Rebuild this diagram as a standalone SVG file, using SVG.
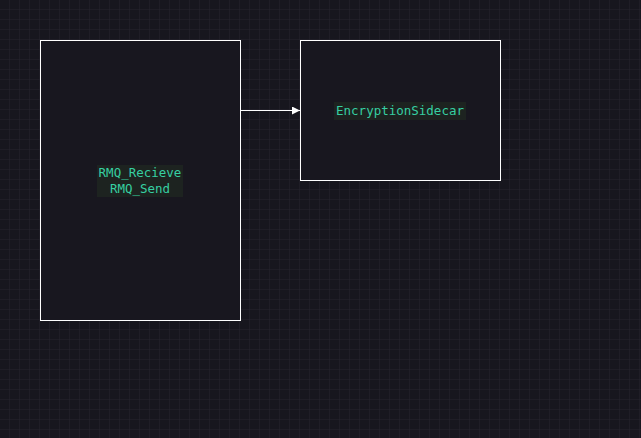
<svg xmlns="http://www.w3.org/2000/svg" width="641" height="438" viewBox="0 0 641 438">
<defs>
<pattern id="minor" width="10" height="10" patternUnits="userSpaceOnUse">
<path d="M10 0V10M0 10H10" fill="none" stroke="#25242d" stroke-width="1"/>
</pattern>
<pattern id="major" width="40" height="40" patternUnits="userSpaceOnUse">
<path d="M40.5 0V40M0 40.5H40" fill="none" stroke="#3a3940" stroke-width="1"/>
</pattern>
<marker id="arr" viewBox="0 0 10 10" refX="10" refY="5" markerWidth="9" markerHeight="8" markerUnits="userSpaceOnUse" orient="auto">
<path d="M0 0L10 5L0 10Z" fill="#ffffff"/>
</marker>
</defs>
<style>
.box{fill:#18171f;stroke:#ffffff;stroke-width:1}
.lbl{font-family:"DejaVu Sans Mono","Liberation Mono",monospace;font-size:12.5px;fill:#36cfa2;text-anchor:middle;font-weight:500}
.hl{fill:#1d2320}
.edge{stroke:#ffffff;stroke-width:1;fill:none}
</style>
<rect width="641" height="438" fill="#17161e"/>
<rect width="641" height="438" fill="url(#minor)"/>
<rect width="641" height="438" fill="url(#major)"/>
<g id="node-rmq">
<rect class="box" x="40.5" y="40.5" width="200" height="280"/>
<rect class="hl" x="97" y="165" width="86" height="32"/>
<text class="lbl" x="140" y="177">RMQ_Recieve</text>
<text class="lbl" x="140" y="193">RMQ_Send</text>
</g>
<g id="node-sidecar">
<rect class="box" x="300.5" y="40.5" width="200" height="140"/>
<rect class="hl" x="334" y="102" width="132" height="18"/>
<text class="lbl" x="400" y="115">EncryptionSidecar</text>
</g>
<g id="connectors">
<path class="edge" d="M241 110.5H300" marker-end="url(#arr)"/>
</g>
</svg>
